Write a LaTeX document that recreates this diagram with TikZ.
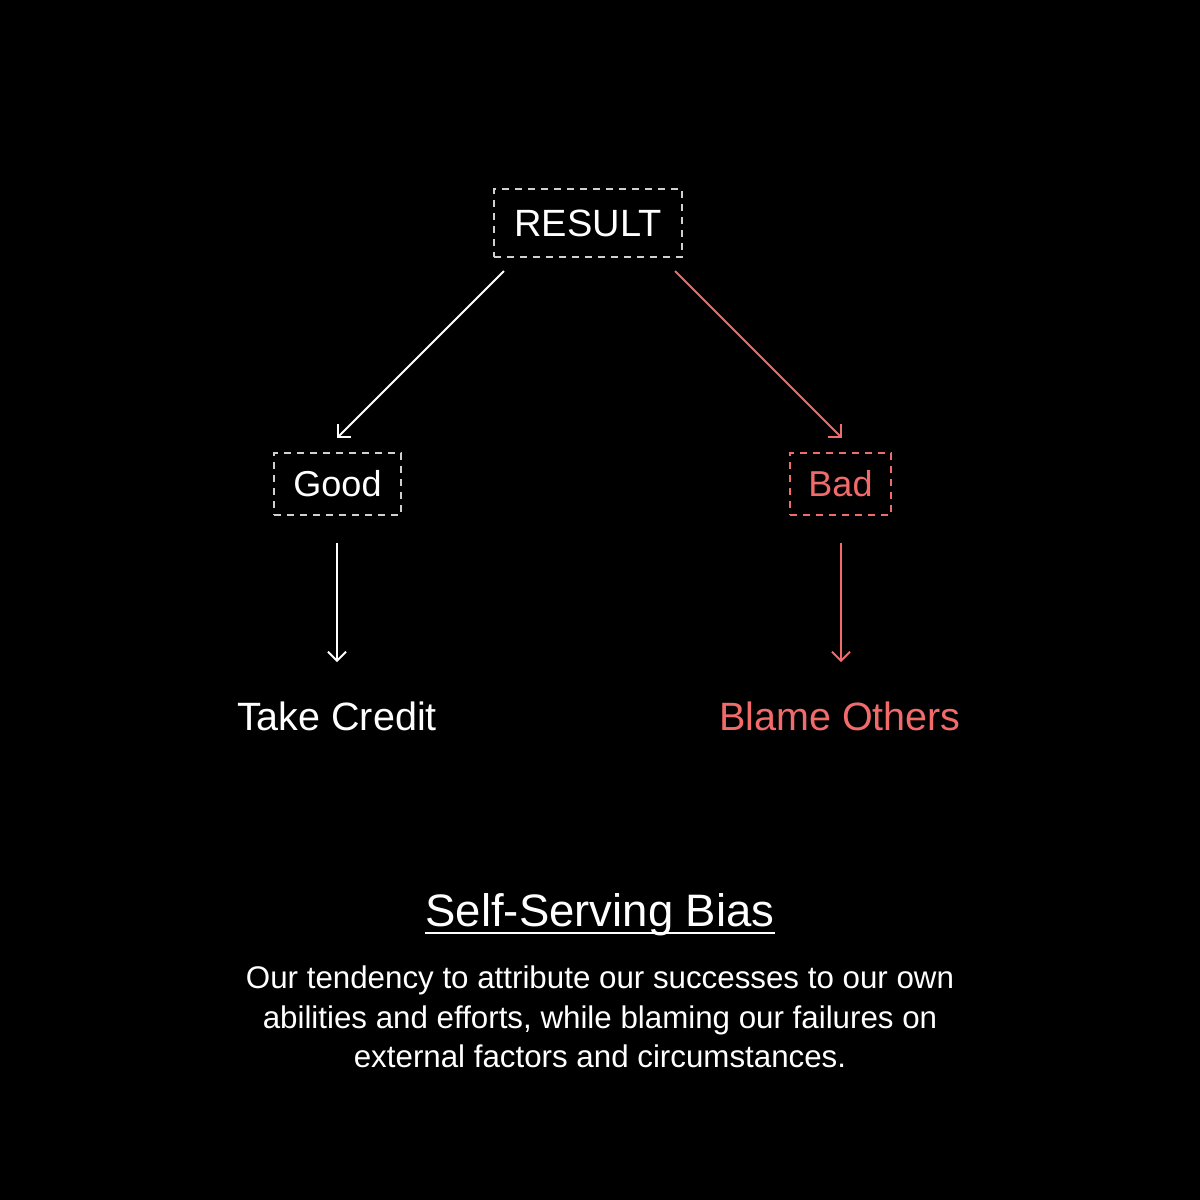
\documentclass[tikz,border=0pt]{standalone}
\usepackage{fontspec}
\setmainfont{Liberation Sans}
\usetikzlibrary{arrows.meta}
\definecolor{redc}{HTML}{F26B6B}
\definecolor{dashc}{HTML}{D0D0D0}
\begin{document}
\begin{tikzpicture}[x=1pt,y=-1pt,
  box/.style={draw=dashc, line width=1.6pt, dash pattern=on 7pt off 6pt, inner sep=0pt, minimum height=62pt},
  redbox/.style={box, draw=redc},
  arr/.style={line width=1.8pt, -{Straight Barb[length=9pt,width=18pt,line width=1.9pt]}},
  lbl/.style={inner sep=0pt, text=white}
]
\fill[black] (0,0) rectangle (1200,1200);
\useasboundingbox (0,0) rectangle (1200,1200);

\node[box, minimum width=188pt, minimum height=68pt, text=white, font=\fontsize{38}{44}\selectfont] (res) at (588,223) {RESULT};
\node[box, minimum width=127pt, text=white, font=\fontsize{36}{42}\selectfont] (good) at (337.5,484) {Good};
\node[redbox, minimum width=101pt, text=redc, font=\fontsize{36}{42}\selectfont] (bad) at (840.5,484) {Bad};

\node[lbl, font=\fontsize{39.5}{44}\selectfont] (take) at (337,716) {Take Credit};
\node[lbl, text=redc, font=\fontsize{39.5}{44}\selectfont] (blame) at (840,716) {Blame Others};

\coordinate (r1) at (504,271);
\coordinate (r2) at (675,271);
\coordinate (g1) at (337,438);
\coordinate (b1) at (842,438);
\coordinate (g2) at (337,543);
\coordinate (g3) at (337,662);
\coordinate (b2) at (841,543);
\coordinate (b3) at (841,662);

\draw[arr, white] (r1) -- (g1);
\draw[arr, redc] (r2) -- (b1);
\draw[arr, white] (g2) -- (g3);
\draw[arr, redc] (b2) -- (b3);

\node[lbl, anchor=base, font=\fontsize{45.5}{50}\selectfont] (title) at (600,926) {Self-Serving Bias};
\draw[white, line width=2pt] (title.base west) ++(0,7) coordinate (u1) -- (title.base east |- u1);

\node[lbl, anchor=base, font=\fontsize{31.3}{36}\selectfont] (l1) at (600,988) {Our tendency to attribute our successes to our own};
\node[lbl, anchor=base, font=\fontsize{31.3}{36}\selectfont] (l2) at (600,1028) {abilities and efforts, while blaming our failures on};
\node[lbl, anchor=base, font=\fontsize{31.3}{36}\selectfont] (l3) at (600,1067) {external factors and circumstances.};
\end{tikzpicture}
\end{document}
